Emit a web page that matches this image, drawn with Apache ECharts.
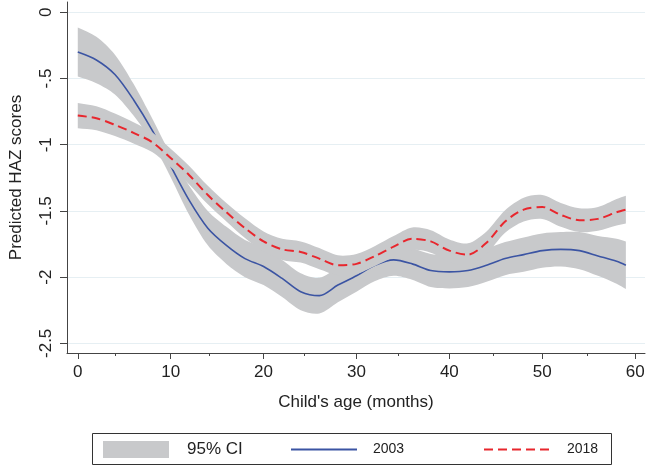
<!DOCTYPE html>
<html><head><meta charset="utf-8">
<script src="https://cdn.jsdelivr.net/npm/echarts@6/dist/echarts.min.js"></script>
<style>html,body{margin:0;padding:0;background:#fff}#c{width:650px;height:466px}</style>
</head><body><div id="c"></div>
<script>
// Child's age in months
const months = [0,2,4,6,8,10,12,14,16,18,20,22,24,26,28,30,32,34,36,38,40,42,44,46,48,50,52,54,56,58,59];
// Predicted HAZ, 2003
const haz2003 = [-0.30,-0.36,-0.47,-0.66,-0.89,-1.16,-1.42,-1.63,-1.76,-1.86,-1.92,-2.01,-2.11,-2.14,-2.06,-1.99,-1.91,-1.87,-1.90,-1.95,-1.96,-1.95,-1.91,-1.86,-1.83,-1.80,-1.79,-1.80,-1.84,-1.88,-1.91];
const ci2003Hi = [-0.115,-0.185,-0.32,-0.54,-0.80,-1.075,-1.31,-1.50,-1.62,-1.72,-1.78,-1.87,-1.97,-2.005,-1.93,-1.87,-1.79,-1.75,-1.78,-1.825,-1.835,-1.825,-1.785,-1.735,-1.70,-1.67,-1.66,-1.66,-1.69,-1.71,-1.73];
const ci2003Lo = [-0.485,-0.535,-0.62,-0.78,-0.98,-1.245,-1.53,-1.76,-1.90,-2.00,-2.06,-2.15,-2.25,-2.275,-2.19,-2.11,-2.03,-1.99,-2.02,-2.075,-2.085,-2.075,-2.035,-1.985,-1.96,-1.93,-1.92,-1.94,-1.99,-2.05,-2.09];
// Predicted HAZ, 2018
const haz2018 = [-0.78,-0.80,-0.85,-0.91,-0.98,-1.10,-1.23,-1.38,-1.51,-1.63,-1.73,-1.79,-1.81,-1.86,-1.91,-1.90,-1.84,-1.77,-1.71,-1.73,-1.80,-1.83,-1.74,-1.58,-1.49,-1.47,-1.53,-1.57,-1.56,-1.51,-1.49];
const ci2018Hi = [-0.685,-0.71,-0.765,-0.83,-0.905,-1.03,-1.16,-1.31,-1.44,-1.555,-1.655,-1.71,-1.73,-1.78,-1.835,-1.825,-1.765,-1.69,-1.625,-1.645,-1.715,-1.745,-1.655,-1.495,-1.40,-1.38,-1.44,-1.48,-1.47,-1.41,-1.385];
const ci2018Lo = [-0.875,-0.89,-0.935,-0.99,-1.055,-1.17,-1.30,-1.45,-1.58,-1.705,-1.805,-1.87,-1.89,-1.94,-1.985,-1.975,-1.915,-1.85,-1.795,-1.815,-1.885,-1.915,-1.825,-1.665,-1.58,-1.56,-1.62,-1.66,-1.65,-1.61,-1.595];
// Tick labels
const xTicks = [0,10,20,30,40,50,60];
const xMinorTicks = [5,15,25,35,45,55];
const yTicks = [0,-0.5,-1,-1.5,-2,-2.5];

const FONT = "'Liberation Sans', Arial, sans-serif";
const BAND = '#c8c9cb', BLUE = '#3b54a3', RED = '#e8262d', AXIS = '#444', TXT = '#222';
const X_MIN = -1.16, X_MAX = 61.06, Y_MIN = -2.573, Y_MAX = 0.078;
const pts = arr => months.map((m, i) => [m, arr[i]]);

function band(z, lo, hi) {
  return {
    name: '95% CI', type: 'custom', z: z, silent: true,
    itemStyle: { color: BAND },
    data: months.map((m, i) => [m, lo[i], hi[i]]),
    encode: { x: 0, y: [1, 2] },
    renderItem: function (params, api) {
      if (params.dataIndex !== 0) return null;
      const up = months.map((m, i) => api.coord([m, hi[i]]));
      const dn = months.map((m, i) => api.coord([m, lo[i]])).reverse();
      // repeat the end points so the end edges stay straight
      const points = [up[0]].concat(up, [up[up.length - 1]], [dn[0]], dn, [dn[dn.length - 1]]);
      return { type: 'polygon', shape: { points: points, smooth: 0.3 }, style: { fill: BAND } };
    }
  };
}

const chart = echarts.init(document.getElementById('c'), null, { renderer: 'canvas' });
const legendBase = { orient: 'horizontal', padding: 0, itemWidth: 66, itemHeight: 17, top: 441, selectedMode: false };
const gridBox = { left: 57, right: 5, top: 2, bottom: 113, containLabel: false };
chart.setOption({
  backgroundColor: '#fff',
  animation: false,
  textStyle: { fontFamily: FONT },
  grid: [gridBox, Object.assign({}, gridBox)],
  xAxis: [{
    type: 'value', min: X_MIN, max: X_MAX, gridIndex: 0,
    name: "Child's age (months)", nameLocation: 'middle', nameGap: 41,
    nameTextStyle: { fontSize: 17, color: TXT, fontFamily: FONT },
    axisLine: { show: true, onZero: false, lineStyle: { color: AXIS, width: 1 } },
    axisTick: { show: true, customValues: xTicks, length: 6, lineStyle: { color: AXIS } },
    axisLabel: { customValues: xTicks, fontSize: 17, color: TXT, margin: 11, fontFamily: FONT },
    splitLine: { show: false }
  }, {
    type: 'value', min: X_MIN, max: X_MAX, gridIndex: 1, position: 'bottom',
    axisLine: { show: false, onZero: false },
    axisTick: { show: true, customValues: xMinorTicks, length: 3, lineStyle: { color: AXIS } },
    axisLabel: { show: false }, splitLine: { show: false }
  }],
  yAxis: [{
    type: 'value', min: Y_MIN, max: Y_MAX, gridIndex: 0,
    name: 'Predicted HAZ scores', nameLocation: 'middle', nameGap: 42,
    nameTextStyle: { fontSize: 17, color: TXT, fontFamily: FONT },
    axisLine: { show: true, onZero: false, lineStyle: { color: AXIS, width: 1 } },
    axisTick: { show: true, customValues: yTicks, length: 7, lineStyle: { color: AXIS } },
    axisLabel: { customValues: yTicks, rotate: 90, fontSize: 17, color: TXT, margin: 12, fontFamily: FONT,
      formatter: v => String(v).replace('0.', '.') },
    splitLine: { show: true, lineStyle: { color: '#e6eff3', width: 1.2 } }
  }, {
    type: 'value', min: Y_MIN, max: Y_MAX, gridIndex: 1, show: false
  }],
  legend: [
    Object.assign({}, legendBase, { left: 103, data: [{ name: '95% CI', icon: 'rect', itemStyle: { color: BAND, borderWidth: 0 } }],
      textStyle: { fontSize: 17, color: TXT, lineHeight: 17, padding: [0, 0, 0, 13], fontFamily: FONT } }),
    Object.assign({}, legendBase, { left: 290, data: [{ name: '2003', itemStyle: { opacity: 0 } }],
      textStyle: { fontSize: 14, color: TXT, lineHeight: 17, padding: [0, 0, 0, 11], fontFamily: FONT } }),
    Object.assign({}, legendBase, { left: 483, data: [{ name: '2018', itemStyle: { opacity: 0 } }],
      textStyle: { fontSize: 14, color: TXT, lineHeight: 17, padding: [0, 0, 0, 12], fontFamily: FONT } })
  ],
  graphic: [{ type: 'rect', shape: { x: 92.5, y: 433.5, width: 519, height: 31 }, style: { fill: 'none', stroke: '#333', lineWidth: 1 }, silent: true }],
  series: [
    band(2, ci2003Lo, ci2003Hi),
    { name: '2003', type: 'line', z: 3, data: pts(haz2003), symbol: 'none', smooth: 0.3,
      itemStyle: { color: BLUE }, lineStyle: { color: BLUE, width: 1.6 } },
    band(4, ci2018Lo, ci2018Hi),
    { name: '2018', type: 'line', z: 5, data: pts(haz2018), symbol: 'none', smooth: 0.3,
      itemStyle: { color: RED }, lineStyle: { color: RED, width: 2, type: [9, 5] } }
  ]
});
</script>
</body></html>
